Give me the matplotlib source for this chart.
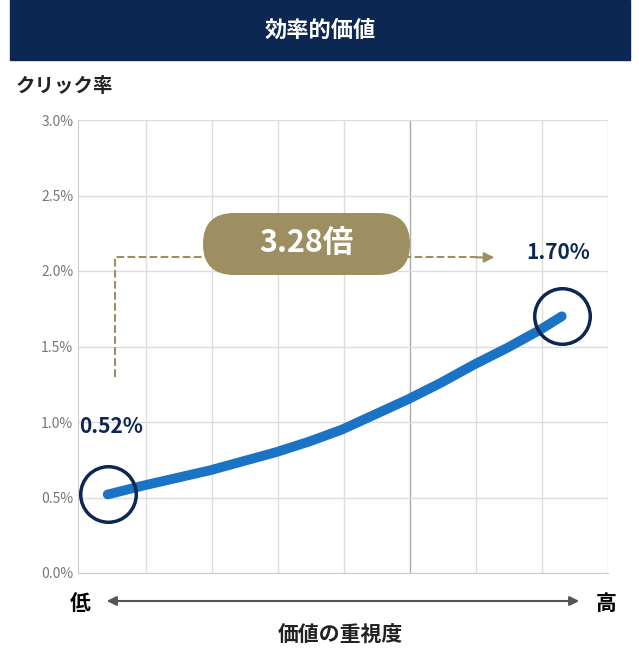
import matplotlib.pyplot as plt
from matplotlib.patches import FancyBboxPatch, Rectangle, FancyArrowPatch

plt.rcParams["font.family"] = "Noto Sans CJK JP"

NAVY = "#0b2752"
TAN = "#9e8f62"
BLUE = "#1a73c4"

# curve (x in grid columns, y in %)
curve_x = [0.45, 1.0, 1.5, 2.0, 2.5, 3.0, 3.5, 4.0, 4.5, 5.0, 5.5, 6.0, 6.5, 7.0, 7.33]
curve_y = [0.52, 0.58, 0.63, 0.68, 0.74, 0.80, 0.87, 0.95, 1.05, 1.15, 1.26, 1.38, 1.49, 1.61, 1.70]
yticks = [0.0, 0.5, 1.0, 1.5, 2.0, 2.5, 3.0]
ratio_label = "3.28倍"

W, H = 639, 664
fig = plt.figure(figsize=(W / 100, H / 100), dpi=100)

ax = fig.add_axes([78 / W, 1 - 573 / H, 530 / W, 453 / H])
ax.set_xlim(0, 530 / 66)
ax.set_ylim(0, 3.0)
ax.set_yticks(yticks)
ax.set_yticklabels([f"{v:.1f}%" for v in yticks], color="#777777", fontsize=10)
ax.set_xticks([])
for i in range(1, 9):
    ax.axvline(i + 0.03, color="#aaaaaa" if i == 5 else "#dddddd", lw=1, zorder=0)
ax.grid(axis="y", color="#dddddd", lw=1)
ax.set_axisbelow(True)
for s in ax.spines.values():
    s.set_visible(False)
for side in ("bottom", "left"):
    ax.spines[side].set_visible(True)
    ax.spines[side].set_color("#cccccc")
ax.tick_params(length=0)

ax.plot(curve_x, curve_y, color=BLUE, lw=7, solid_capstyle="round", zorder=3)
for xi, yi in [(curve_x[0], curve_y[0]), (curve_x[-1], curve_y[-1])]:
    ax.plot(xi, yi, "o", ms=40, mfc="none", mec=NAVY, mew=2.5, zorder=4)

ax.text(curve_x[0] + 0.05, 0.97, f"{curve_y[0]:.2f}%", fontsize=15, fontweight="bold",
        color=NAVY, ha="center", va="center")
ax.text(curve_x[-1] - 0.05, 2.12, f"{curve_y[-1]:.2f}%", fontsize=15, fontweight="bold",
        color=NAVY, ha="center", va="center")

# dashed connector
ax.plot([0.56, 0.56, 6.1], [1.3, 2.09, 2.09], ls="--", color=TAN, lw=1.5)
ax.annotate("", xy=(6.35, 2.09), xytext=(6.0, 2.09),
            arrowprops=dict(arrowstyle="-|>", color=TAN, lw=1.5, mutation_scale=15))

# overlay in pixel coordinates
ov = fig.add_axes([0, 0, 1, 1], zorder=10)
ov.set_xlim(0, W)
ov.set_ylim(H, 0)
ov.axis("off")
ov.patch.set_alpha(0)
ov.add_patch(Rectangle((10, 0), 620, 60, color=NAVY))
ov.text(320, 30, "効率的価値", color="white", fontsize=16, fontweight="bold",
        ha="center", va="center")
ov.text(16, 87, "クリック率", fontsize=14, fontweight="bold",
        ha="left", va="center", color="#222222")
ov.add_patch(FancyBboxPatch((203, 213), 207, 62,
                            boxstyle="round,pad=0,rounding_size=31",
                            fc=TAN, ec="none"))
ov.text(306, 243, ratio_label, fontsize=22, fontweight="bold", color="white",
        ha="center", va="center")

# bottom axis arrow
ov.text(80, 603, "低", fontsize=15, fontweight="bold", ha="center", va="center")
ov.text(606, 603, "高", fontsize=15, fontweight="bold", ha="center", va="center")
ov.add_patch(FancyArrowPatch((104, 601), (582, 601), arrowstyle="<|-|>",
                             mutation_scale=14, color="#555555", lw=1.5))
ov.text(340, 635, "価値の重視度", fontsize=15, fontweight="bold",
        ha="center", va="center", color="#222222")

fig.savefig("out.png", dpi=100)
